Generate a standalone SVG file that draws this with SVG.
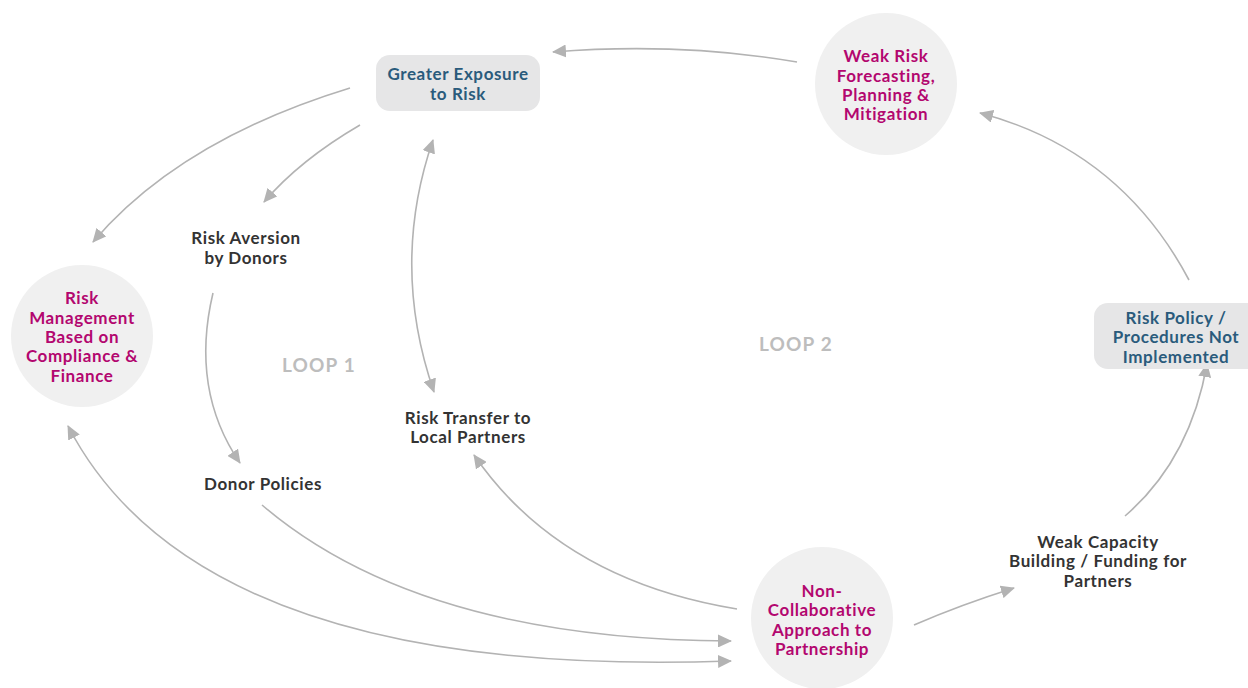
<svg xmlns="http://www.w3.org/2000/svg" width="1248" height="688" viewBox="0 0 1248 688">
<style>
text{font-family:Lato,"Open Sans","Liberation Sans",sans-serif;font-weight:700;font-size:17px;letter-spacing:0.6px;text-anchor:middle}
.blue{fill:#2a5b7c}
.mag{fill:#b3076f}
.dark{fill:#333333}
.loop{fill:#bdbdbd;font-size:19px;letter-spacing:1.2px}
.circ{fill:#f0f0f0}
.box{fill:#e6e6e7}
.c{fill:none;stroke:#b3b3b3;stroke-width:1.6}
</style>
<defs>
<marker id="ah" markerUnits="userSpaceOnUse" markerWidth="14" markerHeight="13" refX="13" refY="6.5" orient="auto-start-reverse" viewBox="0 0 14 13">
<path d="M0,0 L14,6.5 L0,13 z" fill="#b3b3b3"/>
</marker>
</defs>
<rect width="1248" height="688" fill="#ffffff"/>
<g id="connectors">
<path class="c" d="M797,62 Q680,42 553,52" marker-end="url(#ah)"/>
<path class="c" d="M1189,280 Q1120,150 980,113" marker-end="url(#ah)"/>
<path class="c" d="M350,88 Q180,140 93,242" marker-end="url(#ah)"/>
<path class="c" d="M360,125 Q300,160 264,202" marker-end="url(#ah)"/>
<path class="c" d="M434,392 Q390,265 433,140" marker-start="url(#ah)" marker-end="url(#ah)"/>
<path class="c" d="M213,293 Q190,390 240,463" marker-end="url(#ah)"/>
<path class="c" d="M262,505 Q420,640 731,641" marker-end="url(#ah)"/>
<path class="c" d="M68,426 Q200,680 731,661" marker-start="url(#ah)" marker-end="url(#ah)"/>
<path class="c" d="M737,609 Q560,580 474,455" marker-end="url(#ah)"/>
<path class="c" d="M914,625 Q960,605 1014,588" marker-end="url(#ah)"/>
<path class="c" d="M1125,516 Q1190,460 1207,364" marker-end="url(#ah)"/>
</g>
<g id="greater-exposure">
<rect class="box" x="376" y="55" width="164" height="56" rx="14"/>
<text class="blue" x="458" y="80">Greater Exposure</text>
<text class="blue" x="458" y="100">to Risk</text>
</g>
<g id="weak-risk-forecasting">
<circle class="circ" cx="886" cy="84" r="71"/>
<text class="mag" x="886" y="62">Weak Risk</text>
<text class="mag" x="886" y="82">Forecasting,</text>
<text class="mag" x="886" y="101">Planning &amp;</text>
<text class="mag" x="886" y="120">Mitigation</text>
</g>
<g id="risk-management">
<circle class="circ" cx="82" cy="336" r="71"/>
<text class="mag" x="82" y="304">Risk</text>
<text class="mag" x="82" y="324">Management</text>
<text class="mag" x="82" y="343">Based on</text>
<text class="mag" x="82" y="362">Compliance &amp;</text>
<text class="mag" x="82" y="382">Finance</text>
</g>
<g id="risk-policy">
<rect class="box" x="1094" y="303" width="170" height="66" rx="14"/>
<text class="blue" x="1176" y="324">Risk Policy /</text>
<text class="blue" x="1176" y="343">Procedures Not</text>
<text class="blue" x="1176" y="363">Implemented</text>
</g>
<g id="non-collaborative">
<circle class="circ" cx="822" cy="618" r="71"/>
<text class="mag" x="822" y="597">Non-</text>
<text class="mag" x="822" y="616">Collaborative</text>
<text class="mag" x="822" y="636">Approach to</text>
<text class="mag" x="822" y="655">Partnership</text>
</g>
<g id="risk-aversion">
<text class="dark" x="246" y="244">Risk Aversion</text>
<text class="dark" x="246" y="264">by Donors</text>
</g>
<g id="donor-policies">
<text class="dark" x="263" y="490">Donor Policies</text>
</g>
<g id="risk-transfer">
<text class="dark" x="468" y="424">Risk Transfer to</text>
<text class="dark" x="468" y="443">Local Partners</text>
</g>
<g id="weak-capacity">
<text class="dark" x="1098" y="548">Weak Capacity</text>
<text class="dark" x="1098" y="567">Building / Funding for</text>
<text class="dark" x="1098" y="587">Partners</text>
</g>
<g id="loop-labels">
<text class="loop" x="319" y="372">LOOP 1</text>
<text class="loop" x="796" y="351">LOOP 2</text>
</g>
</svg>
